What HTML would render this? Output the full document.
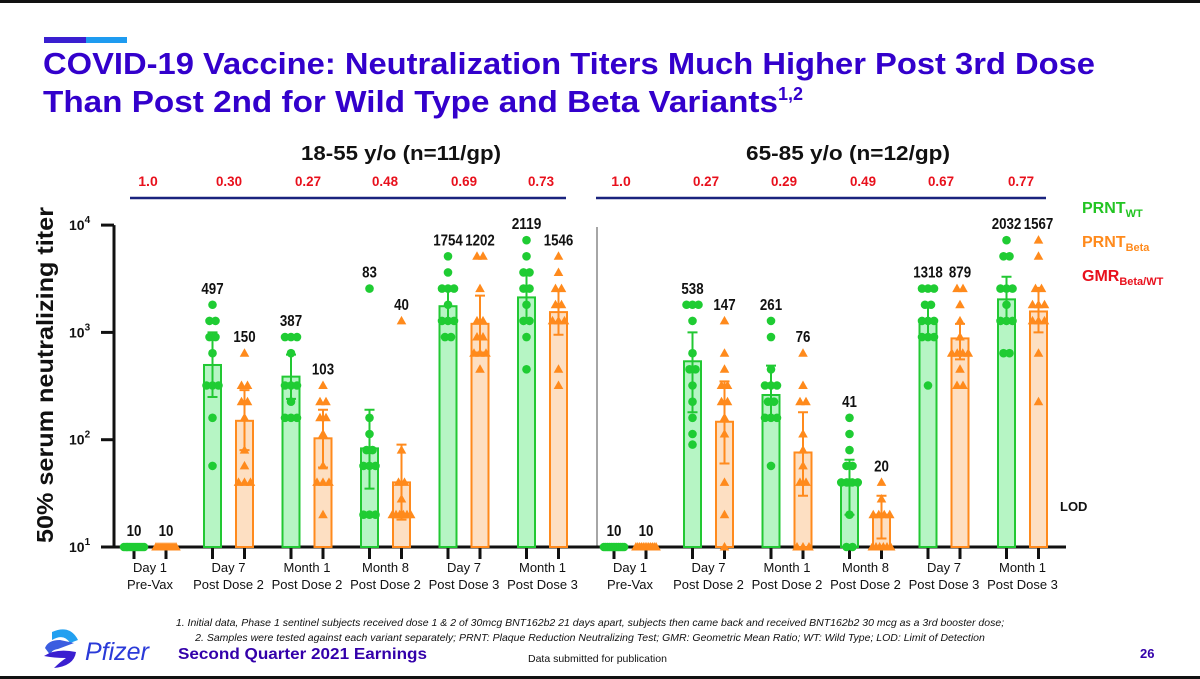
<!DOCTYPE html>
<html><head><meta charset="utf-8"><style>
html,body{margin:0;padding:0;background:#fff;}
svg{display:block;font-family:"Liberation Sans",Arial,sans-serif;}
</style></head><body>
<svg id="chart" width="1200" height="679" viewBox="0 0 1200 679" xmlns="http://www.w3.org/2000/svg">
<rect x="0" y="0" width="1200" height="679" fill="#fff"/>
<rect x="0" y="0" width="1200" height="3" fill="#111"/>
<rect x="0" y="676" width="1200" height="3" fill="#111"/>
<rect x="44" y="37" width="42" height="6" fill="#3a1fd0"/>
<rect x="86" y="37" width="41" height="6" fill="#1e9bf0"/>
<text x="43" y="74" font-size="31" font-weight="bold" fill="#3300cc" textLength="1052" lengthAdjust="spacingAndGlyphs">COVID-19 Vaccine: Neutralization Titers Much Higher Post 3rd Dose</text>
<text x="43" y="112" font-size="31" font-weight="bold" fill="#3300cc"><tspan textLength="735" lengthAdjust="spacingAndGlyphs">Than Post 2nd for Wild Type and Beta Variants</tspan><tspan font-size="18" dy="-12">1,2</tspan></text>
<text x="401" y="160" font-size="20" font-weight="bold" text-anchor="middle" fill="#111" textLength="200" lengthAdjust="spacingAndGlyphs">18-55 y/o (n=11/gp)</text>
<text x="848" y="160" font-size="20" font-weight="bold" text-anchor="middle" fill="#111" textLength="204" lengthAdjust="spacingAndGlyphs">65-85 y/o (n=12/gp)</text>
<line x1="130" y1="198" x2="566" y2="198" stroke="#1a237e" stroke-width="2.5"/>
<line x1="596" y1="198" x2="1046" y2="198" stroke="#1a237e" stroke-width="2.5"/>
<line x1="597" y1="227" x2="597" y2="547" stroke="#888" stroke-width="1.5"/>
<text transform="translate(53,375) rotate(-90)" font-size="23" font-weight="bold" text-anchor="middle" fill="#111" textLength="336" lengthAdjust="spacingAndGlyphs">50% serum neutralizing titer</text>
<g id="axes"></g>
<g id="marks"></g>
<text x="1060" y="511" font-size="13" font-weight="bold" fill="#111">LOD</text>
<g>
<text x="1082" y="213" font-size="16" font-weight="bold" fill="#22c422">PRNT<tspan font-size="11" dy="4">WT</tspan></text>
<text x="1082" y="247" font-size="16" font-weight="bold" fill="#ff8a1c">PRNT<tspan font-size="11" dy="4">Beta</tspan></text>
<text x="1082" y="281" font-size="16" font-weight="bold" fill="#e8101c">GMR<tspan font-size="11" dy="4">Beta/WT</tspan></text>
</g>
<text x="590" y="626" font-size="10.5" font-style="italic" text-anchor="middle" fill="#111">1. Initial data, Phase 1 sentinel subjects received dose 1 &amp; 2 of 30mcg BNT162b2 21 days apart, subjects then came back and received BNT162b2 30 mcg as a 3rd booster dose;</text>
<text x="590" y="641" font-size="10.5" font-style="italic" text-anchor="middle" fill="#111">2. Samples were tested against each variant separately; PRNT: Plaque Reduction Neutralizing Test; GMR: Geometric Mean Ratio; WT: Wild Type; LOD: Limit of Detection</text>
<g>
<path d="M52 632 Q70 624 78 640 L70 643 Q64 633 52 640 Z" fill="#22a0f0"/>
<path d="M45 648 Q48 640 60 640 L74 643 L58 649 Q50 650 51 656 Z" fill="#3b5de0"/>
<path d="M44 656 Q56 648 76 652 Q74 666 54 668 Q60 662 66 658 Q54 658 44 656 Z" fill="#3a1fd0"/>
<text x="85" y="660" font-size="25" font-style="italic" fill="#2a3ad8">Pfizer</text>
</g>
<text x="178" y="659" font-size="16" font-weight="bold" fill="#3300aa" textLength="249" lengthAdjust="spacingAndGlyphs">Second Quarter 2021 Earnings</text>
<text x="528" y="662" font-size="10.5" fill="#111">Data submitted for publication</text>
<text x="1140" y="658" font-size="13" font-weight="bold" fill="#3300aa">26</text>
</svg>
<script>
const categories=[["Day 1","Pre-Vax"],["Day 7","Post Dose 2"],["Month 1","Post Dose 2"],["Month 8","Post Dose 2"],["Day 7","Post Dose 3"],["Month 1","Post Dose 3"]];
const yTicks=[10,100,1000,10000];
const yTickExp=["1","2","3","4"];
// Panel 1: 18-55
const p1Gmr=["1.0","0.30","0.27","0.48","0.69","0.73"];
const p1WtGmt=[10,497,387,83,1754,2119];
const p1BetaGmt=[10,150,103,40,1202,1546];
const p1WtHi=[10,1000,620,190,2500,3600];
const p1WtLo=[10,250,240,35,1300,1300];
const p1BetaHi=[10,290,190,90,2200,2500];
const p1BetaLo=[10,80,55,18,650,950];
const p1WtPts=[[10,10,10,10,10,10,10,10,10,10,10],[1810,1280,1280,905,905,640,320,320,320,160,57],[905,905,905,640,320,320,320,226,160,160,160],[2560,160,113,80,57,57,57,20,20,20,80],[5120,3620,2560,2560,1810,1280,1280,1280,905,905,2560],[7240,5120,3620,3620,2560,2560,1810,1280,1280,905,453]];
const p1BetaPts=[[10,10,10,10,10,10,10,10,10,10,10],[640,320,320,226,226,160,80,57,40,40,40],[320,226,226,160,160,113,57,40,40,40,20],[1280,80,40,40,28,20,20,20,20,20,20],[5120,5120,2560,1280,1280,905,640,640,640,453,905],[5120,3620,2560,2560,1810,1810,1280,1280,453,320,1280]];
// Panel 2: 65-85
const p2Gmr=["1.0","0.27","0.29","0.49","0.67","0.77"];
const p2WtGmt=[10,538,261,41,1318,2032];
const p2BetaGmt=[10,147,76,20,879,1567];
const p2WtHi=[10,1000,490,65,1800,3300];
const p2WtLo=[10,180,160,20,900,1300];
const p2BetaHi=[10,350,180,30,1200,2600];
const p2BetaLo=[10,60,30,12,560,1000];
const p2WtPts=[[10,10,10,10,10,10,10,10,10,10,10,10],[1810,1810,1810,1280,640,453,453,320,226,160,113,90],[1280,905,453,320,320,320,226,160,160,160,57,226],[160,113,80,57,40,40,40,20,10,10,57,40],[2560,2560,2560,1810,1810,1280,1280,905,905,320,1280,905],[7240,5120,5120,2560,2560,2560,1810,1280,1280,640,640,1280]];
const p2BetaPts=[[10,10,10,10,10,10,10,10,10,10,10,10],[1280,640,453,320,320,226,226,113,40,20,10,160],[640,320,226,226,113,80,57,40,40,10,10,10],[40,28,20,20,10,10,10,10,10,10,20,20],[2560,2560,1810,1280,640,640,640,320,320,905,640,453],[7240,5120,2560,2560,1810,1810,1280,1280,640,226,1280,1810]];

const NS="http://www.w3.org/2000/svg";
const Y0=547,DEC=107.3;
function yScale(v){return Y0-DEC*(Math.log10(v)-1);}
const panels=[
 {x0:134,gmr:p1Gmr,wt:p1WtGmt,beta:p1BetaGmt,wtHi:p1WtHi,wtLo:p1WtLo,bHi:p1BetaHi,bLo:p1BetaLo,wtP:p1WtPts,bP:p1BetaPts,gx:[148,229,308,385,464,541]},
 {x0:614,gmr:p2Gmr,wt:p2WtGmt,beta:p2BetaGmt,wtHi:p2WtHi,wtLo:p2WtLo,bHi:p2BetaHi,bLo:p2BetaLo,wtP:p2WtPts,bP:p2BetaPts,gx:[621,706,784,863,941,1021]}
];
function xWt(p,i){return p.x0+i*78.5;}
function xB(p,i){return p.x0+i*78.5+32;}
function mk(tag,attrs,parent){const e=document.createElementNS(NS,tag);for(const k in attrs)e.setAttribute(k,attrs[k]);parent.appendChild(e);return e;}
const axes=document.getElementById('axes'),marks=document.getElementById('marks');
const ya=mk('line',{x1:114,y1:yScale(10000),x2:114,y2:Y0+1,stroke:'#111','stroke-width':3},axes);


const xa=mk('line',{x1:113,y1:Y0,x2:1066,y2:Y0,stroke:'#111','stroke-width':3},axes);


yTicks.forEach((t,i)=>{
 const y=yScale(t);
 const tk=mk('line',{x1:101,y1:y,x2:114,y2:y,stroke:'#111','stroke-width':3},axes);
 
 
 const lb=mk('text',{x:69,y:y+5,'font-size':14,'font-weight':'bold',fill:'#111'},axes);
 
 
 lb.textContent='10';
 const sp=mk('tspan',{'font-size':10,dy:-7},lb);sp.textContent=yTickExp[i];
});
function jitter(arr){const cnt={},seen={};arr.forEach(v=>cnt[v]=(cnt[v]||0)+1);return arr.map(v=>{seen[v]=(seen[v]||0);const k=seen[v]++;return (k-(cnt[v]-1)/2)*Math.min(6,22/cnt[v]);});}
panels.forEach((p,pi)=>{
 p.gmr.forEach((g,i)=>{
  const t=mk('text',{x:p.gx[i],y:186,'font-size':14,'font-weight':'bold','text-anchor':'middle',fill:'#e8101c',textLength:g.length*6.5,lengthAdjust:'spacingAndGlyphs'},axes);
  
  
  t.textContent=g;
 });
 categories.forEach((c,i)=>{
  [xWt(p,i),xB(p,i)].forEach(x=>{
   const tk=mk('line',{x1:x,y1:Y0,x2:x,y2:Y0+12,stroke:'#111','stroke-width':3},axes);
   
   
  });
  const cx=(xWt(p,i)+xB(p,i))/2;
  c.forEach((line,li)=>{
   const t=mk('text',{x:cx,y:572+li*17,'font-size':13,'text-anchor':'middle',fill:'#111'},axes);
   
   
   t.textContent=line;
  });
  const series=[{x:xWt(p,i),gmt:p.wt[i],hi:p.wtHi[i],lo:p.wtLo[i],pts:p.wtP[i],stroke:'#22c833',fill:'#b6f5c4',name:'wt'},
                {x:xB(p,i),gmt:p.beta[i],hi:p.bHi[i],lo:p.bLo[i],pts:p.bP[i],stroke:'#ff8a1c',fill:'#fddfc2',name:'beta'}];
  series.forEach(s=>{
   const yt=yScale(s.gmt);
   const bar=mk('rect',{x:s.x-8.5,y:yt,width:17,height:Math.max(0,Y0-yt),fill:s.fill,stroke:s.stroke,'stroke-width':2},marks);
   
   
   if(s.hi>s.lo){
    const eb=mk('path',{d:`M${s.x} ${yScale(s.hi)}V${yScale(s.lo)}M${s.x-5} ${yScale(s.hi)}H${s.x+5}M${s.x-5} ${yScale(s.lo)}H${s.x+5}`,stroke:s.stroke,'stroke-width':2,fill:'none'},marks);
    
    
   }
   const js=jitter(s.pts);
   s.pts.forEach((v,k)=>{
    const px=s.x+js[k],py=yScale(v);
    let m;
    if(s.name==='wt')m=mk('circle',{cx:px,cy:py,r:4.3,fill:'#1fcc33'},marks);
    else m=mk('path',{d:`M${px} ${py-5}L${px+4.8} ${py+3.5}L${px-4.8} ${py+3.5}Z`,fill:'#ff8a1c'},marks);
    
    
   });
   const top=Math.min(yScale(Math.max(...s.pts)),yScale(s.hi),yt);
   const txt=String(s.gmt);
   const lb=mk('text',{x:s.x,y:top-11,'font-size':16,'font-weight':'bold','text-anchor':'middle',fill:'#111',textLength:txt.length*7.4,lengthAdjust:'spacingAndGlyphs'},marks);
   
   
   lb.textContent=txt;
  });
 });
});
</script>
</body></html>
